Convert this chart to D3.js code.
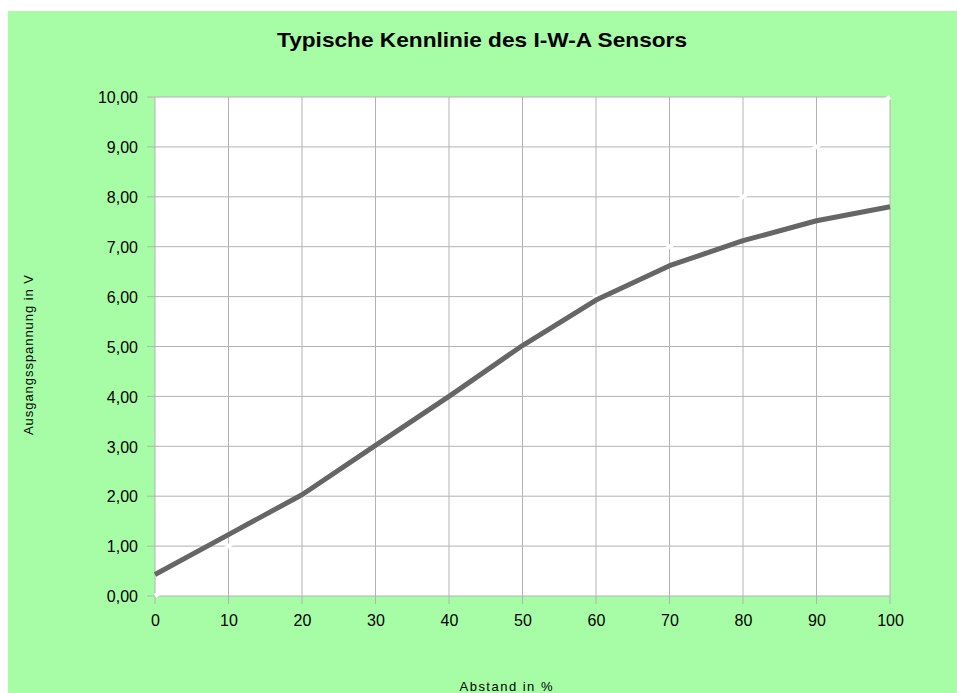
<!DOCTYPE html>
<html>
<head>
<meta charset="utf-8">
<script src="https://cdn.jsdelivr.net/npm/d3@7"></script>
<style>
  html, body { margin: 0; padding: 0; background: #ffffff; }
  svg { display: block; font-family: "Liberation Sans", Arial, sans-serif; }
</style>
</head>
<body>
<div id="chart"></div>
<script>
// data
const abstand = [0, 10, 20, 30, 40, 50, 60, 70, 80, 90, 100];
const spannung = [0.43, 1.23, 2.03, 3.02, 4.0, 5.02, 5.93, 6.62, 7.12, 7.52, 7.8];
const referenz = [0, 1, 2, 3, 4, 5, 6, 7, 8, 9, 10];
const xTicks = [0, 10, 20, 30, 40, 50, 60, 70, 80, 90, 100];
const yTicks = [0, 1, 2, 3, 4, 5, 6, 7, 8, 9, 10];

const width = 957, height = 693;
const margin = { top: 97, right: 67, bottom: 97, left: 155 };

const svg = d3.select("#chart").append("svg")
    .attr("width", width)
    .attr("height", height);

// green page
svg.append("rect")
    .attr("x", 8).attr("y", 11)
    .attr("width", width - 8).attr("height", height - 11)
    .attr("fill", "#a6fda6");

const x = d3.scaleLinear()
    .domain([0, 100])
    .range([margin.left, width - margin.right]);

const y = d3.scaleLinear()
    .domain([0, 10])
    .range([height - margin.bottom, margin.top]);

// plot area
svg.append("rect")
    .attr("x", x(0)).attr("y", y(10))
    .attr("width", x(100) - x(0)).attr("height", y(0) - y(10))
    .attr("fill", "#ffffff");

// grid
svg.append("g")
    .selectAll("line")
    .data(yTicks)
    .join("line")
    .attr("x1", x(0) - 8).attr("x2", x(100))
    .attr("y1", d => y(d)).attr("y2", d => y(d))
    .attr("stroke", "#b3b3b3")
    .attr("stroke-width", 1);

svg.append("g")
    .selectAll("line")
    .data(xTicks)
    .join("line")
    .attr("x1", d => x(d)).attr("x2", d => x(d))
    .attr("y1", y(10)).attr("y2", y(0) + 8)
    .attr("stroke", "#b3b3b3")
    .attr("stroke-width", 1);

// axes labels via d3 axes
const fmt = d => d3.format(".2f")(d).replace(".", ",");

svg.append("g")
    .attr("transform", `translate(${x(0) - 14},0)`)
    .call(d3.axisLeft(y).tickValues(yTicks).tickFormat(fmt).tickSize(0))
    .call(g => g.select(".domain").remove())
    .selectAll("text")
    .attr("font-family", "Liberation Sans, Arial, sans-serif")
    .attr("font-size", 16)
    .attr("fill", "#000")
    .attr("dy", "0.36em");

svg.append("g")
    .attr("transform", `translate(0,${y(0) + 15})`)
    .call(d3.axisBottom(x).tickValues(xTicks).tickFormat(d3.format("d")).tickSize(0))
    .call(g => g.select(".domain").remove())
    .selectAll("text")
    .attr("font-family", "Liberation Sans, Arial, sans-serif")
    .attr("font-size", 16)
    .attr("fill", "#000")
    .attr("dy", "0.75em");

// white reference line (only visible on the grid)
const line = d3.line()
    .x((d, i) => x(abstand[i]))
    .y(d => y(d));

svg.append("path")
    .datum(referenz)
    .attr("d", line)
    .attr("fill", "none")
    .attr("stroke", "#ffffff")
    .attr("stroke-width", 4);

// sensor curve
svg.append("path")
    .datum(spannung)
    .attr("d", line)
    .attr("fill", "none")
    .attr("stroke", "#666666")
    .attr("stroke-width", 5)
    .attr("stroke-linejoin", "round");

// title
svg.append("text")
    .attr("x", 482).attr("y", 47)
    .attr("text-anchor", "middle")
    .attr("font-size", 21)
    .attr("font-weight", "bold")
    .attr("textLength", 410)
    .attr("lengthAdjust", "spacingAndGlyphs")
    .text("Typische Kennlinie des I-W-A Sensors");

// axis titles
svg.append("text")
    .attr("transform", "translate(33,355) rotate(-90)")
    .attr("text-anchor", "middle")
    .attr("font-size", 13)
    .attr("textLength", 160)
    .attr("lengthAdjust", "spacing")
    .text("Ausgangsspannung in V");

svg.append("text")
    .attr("x", 506).attr("y", 691)
    .attr("text-anchor", "middle")
    .attr("font-size", 13)
    .attr("textLength", 93)
    .attr("lengthAdjust", "spacing")
    .text("Abstand in %");
</script>
</body>
</html>
